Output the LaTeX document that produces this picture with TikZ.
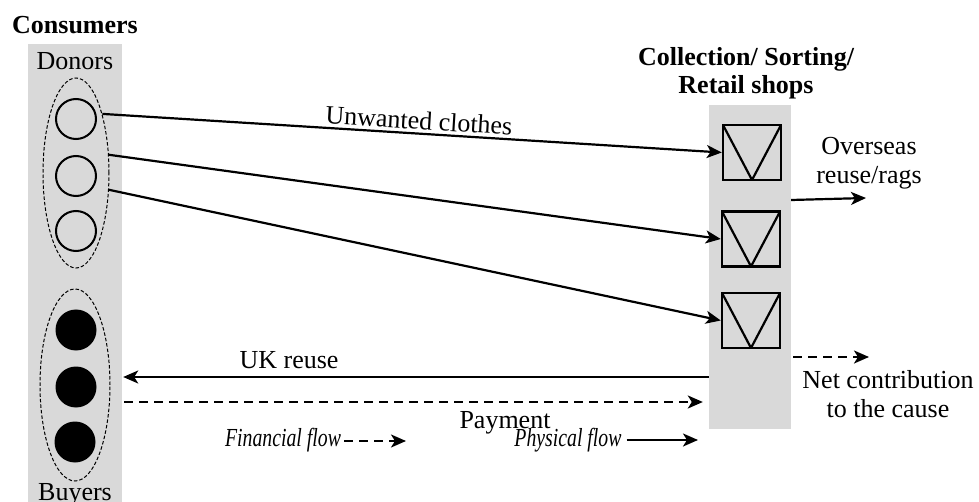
\documentclass[tikz,border=0pt]{standalone}
\usepackage{fontspec}
\setmainfont{Liberation Serif}
\usetikzlibrary{arrows.meta,shapes.geometric,calc}
\definecolor{panelgray}{HTML}{D9D9D9}
\newcommand{\narrowitalic}[1]{\scalebox{0.76}[1]{\itshape #1}}
\begin{document}
\begin{tikzpicture}[x=1pt,y=-1pt,
  every node/.style={font=\fontsize{26}{29}\selectfont, inner sep=0pt},
  titletext/.style={font=\fontsize{26}{28}\selectfont\bfseries, align=center, anchor=base},
  plaintext/.style={align=center, anchor=base},
  legendtext/.style={anchor=base},
  panel/.style={fill=panelgray, draw=none},
  group/.style={ellipse, draw, dash pattern=on 3.5pt off 2pt, line width=1pt},
  donor/.style={circle, draw, line width=2pt, minimum size=40pt},
  buyer/.style={circle, fill=black, minimum size=41pt},
  shopbox/.style={draw, line width=2.5pt, minimum width=58pt, minimum height=55pt,
    path picture={\draw[line width=2.2pt] (path picture bounding box.north west)
      -- (path picture bounding box.south) -- (path picture bounding box.north east);}},
  phys/.style={line width=2.2pt, -{Stealth[length=15pt,width=13pt,inset=4pt]}},
  fin/.style={phys, dash pattern=on 9pt off 6pt},
]
\useasboundingbox (0,0) rectangle (979,502);

% grey panels
\node[panel, minimum width=94pt, minimum height=458pt] (leftcol) at (75,273) {};
\node[panel, minimum width=82pt, minimum height=324pt] (rightcol) at (750,267) {};

% consumers
\node[titletext] (constitle) at (75,34) {Consumers};
\node[plaintext] (donorlabel) at (75,70) {Donors};
\node[plaintext] (buyerlabel) at (75,500) {Buyers};

\node[group, minimum width=66pt, minimum height=190pt] (donors) at (76,173) {};
\node[donor] (d1) at (76,119) {};
\node[donor] (d2) at (76,176) {};
\node[donor] (d3) at (76,231) {};

\node[group, minimum width=70pt, minimum height=192pt] (buyers) at (75,385) {};
\node[buyer] (b1) at (76,330) {};
\node[buyer] (b2) at (76,387) {};
\node[buyer] (b3) at (75,442) {};

% collection / sorting / retail (base anchor sits on the last line)
\node[titletext] (shoptitle) at (746,94) {Collection/ Sorting/\\Retail shops};
\node[shopbox] (s1) at (752,152.5) {};
\node[shopbox] (s2) at (751,239) {};
\node[shopbox] (s3) at (751,320.5) {};

% donations
\draw[phys] (donors.66) -- node[pos=0.51, sloped, above=3pt] {Unwanted clothes} (s1.west);
\draw[phys] (donors.29) -- (s2.west);
\draw[phys] (donors.-27) -- (s3.west);

% helper heights
\coordinate (y200) at (0,200);
\coordinate (y357) at (0,357);
\coordinate (y377) at (0,377);
\coordinate (y402) at (0,402);

% outgoing flows
\node[plaintext] (overseas) at (869,184) {Overseas\\reuse/rags};
\coordinate (overseasend) at (866,198);
\draw[phys] (rightcol.east |- y200) -- (overseasend);

\node[plaintext] (netlabel) at (888,417) {Net contribution\\to the cause};
\coordinate (netend) at (869,357);
\draw[fin] ($(rightcol.east |- y357)+(2,0)$) -- (netend);

% flows back to buyers
\draw[phys] (rightcol.west |- y377) -- ($(leftcol.east |- y377)+(1,0)$);
\node[plaintext] (ukreuse) at (289,368) {UK reuse};
\draw[fin] ($(leftcol.east |- y402)+(2,0)$) -- ($(rightcol.west |- y402)+(-6,0)$);
\node[plaintext] (payment) at (505,428) {Payment};

% legend
\node[legendtext] (finlabel) at (283,446) {\narrowitalic{Financial flow}};
\coordinate (finend) at (406,441);
\draw[fin] ($(finlabel.east |- finend)+(3,0)$) -- (finend);

\node[legendtext] (physlabel) at (568,446) {\narrowitalic{Physical flow}};
\coordinate (physend) at (698,440);
\draw[phys] ($(physlabel.east |- physend)+(5,0)$) -- (physend);
\end{tikzpicture}
\end{document}
